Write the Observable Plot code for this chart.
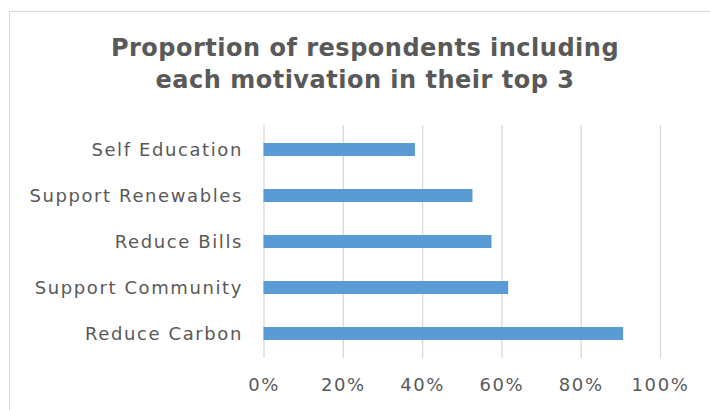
<!DOCTYPE html>
<html>
<head>
<meta charset="utf-8">
<script src="https://cdn.jsdelivr.net/npm/d3@7"></script>
<script src="https://cdn.jsdelivr.net/npm/@observablehq/plot@0.6"></script>
<style>
  html, body { margin: 0; padding: 0; background: #fff; width: 710px; height: 410px; overflow: hidden; position: relative; }
  #frame { position: absolute; left: 9px; top: 11px; width: 720px; height: 420px; border-top: 1px solid #d9d9d9; border-left: 1px solid #d9d9d9; }
  #title { position: absolute; left: 10px; width: 710px; top: 32px; text-align: center; font-family: "DejaVu Sans", sans-serif; font-weight: bold; font-size: 24px; line-height: 32px; letter-spacing: 0.5px; color: #595959; }
  #chart { position: absolute; left: 0; top: 115px; }
</style>
</head>
<body>
<div id="frame"></div>
<div id="title">Proportion of respondents including<br>each motivation in their top 3</div>
<div id="chart"></div>
<script>
const categories = ["Self Education", "Support Renewables", "Reduce Bills", "Support Community", "Reduce Carbon"];
const shares = [0.382, 0.527, 0.575, 0.617, 0.907];
const xTickValues = [0, 0.2, 0.4, 0.6, 0.8, 1];

const data = categories.map((c, i) => ({label: c, value: shares[i]}));

const chart = Plot.plot({
  width: 710,
  height: 295,
  marginLeft: 263.5,
  marginRight: 50,
  marginTop: 10,
  marginBottom: 52,
  style: {fontFamily: "DejaVu Sans, sans-serif", fontSize: "18px", color: "#595959", letterSpacing: "1.6px", background: "transparent"},
  x: {domain: [0, 1], label: null},
  y: {domain: categories, label: null, paddingInner: 0.71, paddingOuter: 0.355},
  marks: [
    Plot.gridX(xTickValues, {stroke: "#d9d9d9", strokeOpacity: 1, strokeWidth: 1.3}),
    Plot.barX(data, {x: "value", y: "label", fill: "#5b9bd5"}),
    Plot.axisX({ticks: xTickValues, tickFormat: d3.format(".0%"), tickSize: 0, tickPadding: 20, label: null}),
    Plot.axisY({tickSize: 0, tickPadding: 21, label: null})
  ]
});
document.getElementById("chart").appendChild(chart);
</script>
</body>
</html>
